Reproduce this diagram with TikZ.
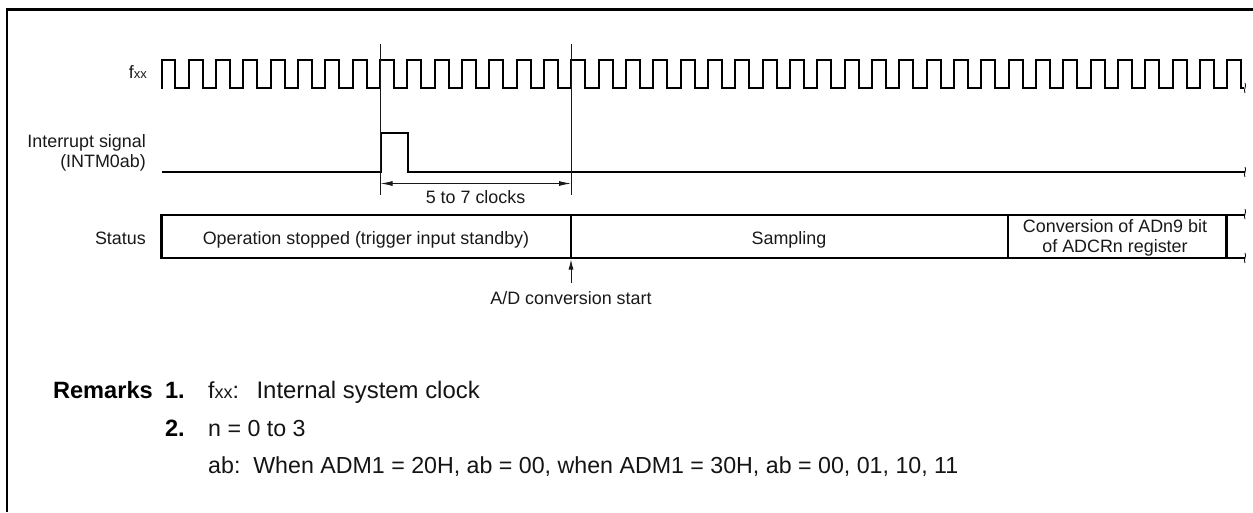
\documentclass[tikz,border=0pt]{standalone}
\usepackage{fontspec}
\setmainfont{Liberation Sans}
\usetikzlibrary{arrows.meta}
\tikzset{
  x=1pt,y=-1pt,
  sig/.style={line width=2pt,line join=miter,black},
  guide/.style={line width=0.9pt,black!90},
  boxline/.style={line width=2.2pt,black},
  brk/.style={line width=0.8pt,black},
  small/.style={inner sep=0pt,anchor=base,font=\fontsize{17.9}{20}\selectfont,text=black!90},
  twoline/.style={inner sep=0pt,anchor=center,font=\fontsize{17.9}{20}\selectfont,text=black!90},
  body/.style={inner sep=0pt,anchor=base west,font=\fontsize{23.2}{26}\selectfont,text=black!92},
  bodyb/.style={inner sep=0pt,anchor=base east,font=\fontsize{23.6}{26}\selectfont\bfseries,text=black},
  dim/.style={guide,{Latex[length=12pt,width=5pt]}-{Latex[length=12pt,width=5pt]}},
  arr/.style={guide,-{Latex[length=10pt,width=5pt]}}
}
\newcommand{\brkmark}[2]{\draw[brk] (#1,#2-5) .. controls (#1+2,#2-2) and (#1-2,#2+2) .. (#1,#2+5);}
\begin{document}
\begin{tikzpicture}
\useasboundingbox (0,0) rectangle (1253,512);
\draw[line width=2.8pt,black] (7,512) -- (7,9.6) -- (1253,9.6);
% clock
\draw[sig] (161.5,88.5) -- (161.5,60)
  \foreach \k in {0,...,39} { -- ({161.5+27.33*\k+13.9},60) -- ({161.5+27.33*\k+13.9},88)
     \ifnum\k<39 -- ({161.5+27.33*(\k+1)},88) -- ({161.5+27.33*(\k+1)},60) \fi }
  -- (1244,88);
\brkmark{1245}{88}
% interrupt
\draw[sig] (162,172) -- (380.5,172) -- (380.5,133) -- (408,133) -- (408,172) -- (1245,172);
\brkmark{1245}{172}
% guides
\coordinate (g1t) at (380.5,44); \coordinate (g1b) at (380.5,195);
\coordinate (g2t) at (571,44);   \coordinate (g2b) at (571,195);
\draw[guide] (g1t) -- (g1b);
\draw[guide] (g2t) -- (g2b);
\coordinate (d1) at (380.5,183.5); \coordinate (d2) at (571,183.5);
\draw[dim] (d1) -- (d2);
\node[small] (clocks) at (475.5,203) {5 to 7 clocks};
% status
\draw[boxline,line join=miter] (1245,215) -- (161.5,215) -- (161.5,258) -- (1245,258);
\draw[boxline] (571,215) -- (571,258);
\draw[boxline] (1008,215) -- (1008,258);
\draw[boxline] (1226.5,215) -- (1226.5,258);
\brkmark{1245}{214}
\brkmark{1245}{258}
\node[small] (opstop) at (366,244) {Operation stopped (trigger input standby)};
\node[small] (sampling) at (789,244) {Sampling};
\node[twoline,align=center] (conv) at (1115,238) {Conversion of ADn9 bit\\of ADCRn register};
\node[small,anchor=base east] (status) at (146,244) {Status};
\node[small,anchor=base east] (fxx) at (147,78.3) {f{\fontsize{13}{15}\selectfont xx}};
\node[twoline,anchor=east,align=right] (intr) at (146,153) {Interrupt signal\\(INTM0ab)};
\coordinate (adtail) at (571,283);
\coordinate (adhead) at (571,259.5);
\draw[arr] (adtail) -- (adhead);
\node[small] (ad) at (571,304) {A/D conversion start};
% remarks
\node[bodyb] (r0) at (153,398) {Remarks};
\node[bodyb] (r1) at (185,398) {1.};
\node[bodyb] (r2) at (185,436) {2.};
\node[body] (t1) at (208,398) {f{\fontsize{18}{20}\selectfont xx}:\hspace{17.5pt}{\fontsize{23.9}{26}\selectfont Internal system clock}};
\node[body] (t2) at (208,436) {n = 0 to 3};
\node[body] (t3) at (208,473) {ab:\ \ When ADM1 = 20H, ab = 00, when ADM1 = 30H, ab = 00, 01, 10, 11};
\end{tikzpicture}
\end{document}
